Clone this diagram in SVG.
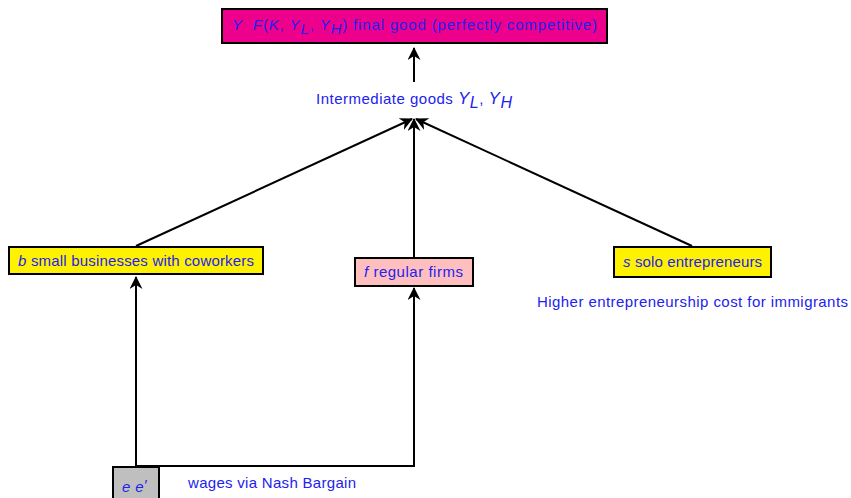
<svg xmlns="http://www.w3.org/2000/svg" width="851" height="498" viewBox="0 0 851 498">
<defs>
<marker id="ah" viewBox="0 0 13 13" refX="12" refY="6.5" markerWidth="13" markerHeight="13" markerUnits="userSpaceOnUse" orient="auto">
<path d="M0,0 L13,6.5 L0,13 L4,6.5 Z" fill="#000"/>
</marker>
<style>
.t{font-family:"Liberation Sans","DejaVu Sans",sans-serif;font-size:15px;fill:#2222ee}
.i{font-style:italic}
.box{stroke:#000;stroke-width:2}
.c{fill:none;stroke:#000;stroke-width:2}
</style>
</defs>
<rect width="851" height="498" fill="#fff"/>
<g id="connectors">
<line class="c" x1="414" y1="82" x2="414" y2="48" marker-end="url(#ah)"/>
<line class="c" x1="136" y1="246" x2="412" y2="119" marker-end="url(#ah)"/>
<line class="c" x1="414" y1="257" x2="414" y2="119" marker-end="url(#ah)"/>
<line class="c" x1="692" y1="246" x2="416" y2="119" marker-end="url(#ah)"/>
<line class="c" x1="136" y1="467" x2="136" y2="277" marker-end="url(#ah)"/>
<polyline class="c" points="136,466 414,466 414,288" marker-end="url(#ah)"/>
</g>
<g id="final">
<rect class="box" x="222" y="9" width="385" height="34" fill="#ec008c"/>
<text class="t" x="232" y="30" font-size="16" textLength="365"><tspan class="i">Y</tspan><tspan class="i" dx="10">F</tspan>(<tspan class="i">K</tspan>, <tspan class="i">Y</tspan><tspan class="i" dy="4">L</tspan><tspan dy="-4">, </tspan><tspan class="i">Y</tspan><tspan class="i" dy="4">H</tspan><tspan dy="-4">) final good (perfectly competitive)</tspan></text>
</g>
<g id="intermediate">
<text class="t" x="316" y="104" textLength="196">Intermediate goods <tspan class="i" font-size="17">Y</tspan><tspan class="i" dy="4" font-size="16">L</tspan><tspan dy="-4">, </tspan><tspan class="i" font-size="17">Y</tspan><tspan class="i" dy="4" font-size="16">H</tspan></text>
</g>
<g id="b">
<rect class="box" x="9" y="247" width="254" height="27" fill="#fff200"/>
<text class="t" x="18" y="266" textLength="236"><tspan class="i">b</tspan> small businesses with coworkers</text>
</g>
<g id="f">
<rect class="box" x="355" y="258" width="118" height="28" fill="#ffbfbf"/>
<text class="t" x="364" y="277" textLength="99"><tspan class="i">f</tspan> regular firms</text>
</g>
<g id="s">
<rect class="box" x="614" y="247" width="157" height="30" fill="#fff200"/>
<text class="t" x="623" y="267" textLength="139"><tspan class="i">s</tspan> solo entrepreneurs</text>
</g>
<g id="note">
<text class="t" x="537" y="307" textLength="311">Higher entrepreneurship cost for immigrants</text>
</g>
<g id="e">
<rect class="box" x="113" y="467" width="46" height="34" fill="#bfbfbf"/>
<text class="t i" x="122" y="492">e<tspan dx="5">e</tspan><tspan dy="-2">′</tspan></text>
</g>
<g id="wages">
<text class="t" x="188" y="488" textLength="168">wages via Nash Bargain</text>
</g>
</svg>
